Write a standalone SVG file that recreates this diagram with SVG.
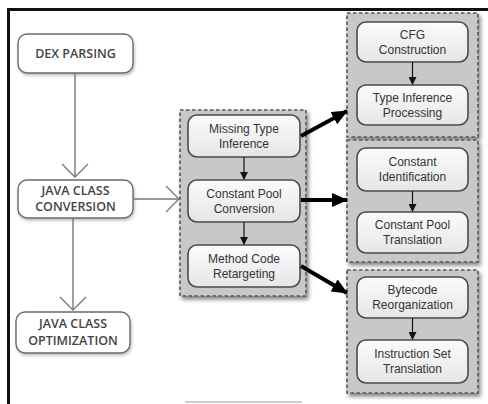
<svg xmlns="http://www.w3.org/2000/svg" width="488" height="404" viewBox="0 0 488 404">
<defs>
<filter id="sh" x="-10%" y="-10%" width="130%" height="130%">
<feGaussianBlur in="SourceAlpha" stdDeviation="2"/>
<feOffset dx="2" dy="3" result="b"/>
<feComponentTransfer><feFuncA type="linear" slope="0.5"/></feComponentTransfer>
<feMerge><feMergeNode/><feMergeNode in="SourceGraphic"/></feMerge>
</filter>
<filter id="sh2" x="-10%" y="-10%" width="130%" height="130%">
<feGaussianBlur in="SourceAlpha" stdDeviation="1.5"/>
<feOffset dx="1" dy="2" result="b"/>
<feComponentTransfer><feFuncA type="linear" slope="0.25"/></feComponentTransfer>
<feMerge><feMergeNode/><feMergeNode in="SourceGraphic"/></feMerge>
</filter>
<linearGradient id="ig" x1="0" y1="0" x2="0" y2="1">
<stop offset="0" stop-color="#fbfbfb"/><stop offset="1" stop-color="#e6e6e6"/>
</linearGradient>
<marker id="open" markerWidth="16" markerHeight="30" refX="14" refY="15" orient="auto" markerUnits="userSpaceOnUse">
<path d="M1,2 L14,15 L1,28" fill="none" stroke="#777" stroke-width="1.3"/>
</marker>
<marker id="small" markerWidth="8" markerHeight="8" refX="7" refY="4" orient="auto" markerUnits="userSpaceOnUse">
<path d="M0,0 L8,4 L0,8 Z" fill="#111"/>
</marker>
<marker id="big" markerWidth="16" markerHeight="14" refX="15" refY="7" orient="auto" markerUnits="userSpaceOnUse">
<path d="M0,0 L16,7 L0,14 Z" fill="#000"/>
</marker>
</defs>
<style>
.outer{fill:#fff;stroke:#6a6a6a;stroke-width:1.4}
.lt{font-family:"Open Sans","Liberation Sans",sans-serif;font-size:12.5px;font-weight:600;fill:#444;text-anchor:middle}
.grp{fill:#c8c8c8;stroke:#555;stroke-width:1.6;stroke-dasharray:3.5,2.5}
.in{fill:url(#ig);stroke:#4a4a4a;stroke-width:1.6}
.it{font-family:"Liberation Sans",Arial,sans-serif;font-size:12px;fill:#333;text-anchor:middle}
.thin{stroke:#777;stroke-width:1.4;fill:none}
.sm{stroke:#111;stroke-width:1.2;fill:none}
.bg{stroke:#000;stroke-width:4;fill:none}
</style>
<rect width="488" height="404" fill="#fff"/>
<path d="M8.5,404 L8.5,9.5 L488,9.5" fill="none" stroke="#111" stroke-width="3"/>
<line x1="185" y1="402" x2="302" y2="402" stroke="#ccc" stroke-width="2"/>

<g id="dex"><rect class="outer" x="18" y="34" width="115" height="39" rx="9" filter="url(#sh2)"/><text class="lt" x="75.5" y="58">DEX PARSING</text></g>
<g id="jcc"><rect class="outer" x="18" y="180" width="115" height="38" rx="9" filter="url(#sh2)"/><text class="lt" x="75.5" y="195">JAVA CLASS</text><text class="lt" x="75.5" y="211">CONVERSION</text></g>
<g id="jco"><rect class="outer" x="16" y="312" width="114" height="41" rx="9" filter="url(#sh2)"/><text class="lt" x="73" y="328">JAVA CLASS</text><text class="lt" x="73" y="345">OPTIMIZATION</text></g>

<g id="grp-mid"><rect class="grp" x="180" y="110" width="126" height="186" filter="url(#sh)"/>
<g id="mti"><rect class="in" x="188" y="115" width="112" height="42" rx="9"/><text class="it" x="244" y="133">Missing Type</text><text class="it" x="244" y="148">Inference</text></g>
<g id="cpc"><rect class="in" x="188" y="180" width="112" height="42" rx="9"/><text class="it" x="244" y="198">Constant Pool</text><text class="it" x="244" y="213">Conversion</text></g>
<g id="mcr"><rect class="in" x="188" y="245" width="112" height="42" rx="9"/><text class="it" x="244" y="263">Method Code</text><text class="it" x="244" y="278">Retargeting</text></g>
</g>

<g id="grp1"><rect class="grp" x="347" y="13" width="131" height="124" filter="url(#sh)"/>
<g id="cfg"><rect class="in" x="357" y="22" width="111" height="40" rx="9"/><text class="it" x="412.5" y="39">CFG</text><text class="it" x="412.5" y="54">Construction</text></g>
<g id="tip"><rect class="in" x="357" y="85" width="111" height="40" rx="9"/><text class="it" x="412.5" y="102">Type Inference</text><text class="it" x="412.5" y="117">Processing</text></g>
</g>
<g id="grp2"><rect class="grp" x="347" y="140" width="131" height="122" filter="url(#sh)"/>
<g id="ci"><rect class="in" x="357" y="148" width="111" height="43" rx="9"/><text class="it" x="412.5" y="166">Constant</text><text class="it" x="412.5" y="181">Identification</text></g>
<g id="cpt"><rect class="in" x="357" y="212" width="111" height="41" rx="9"/><text class="it" x="412.5" y="229">Constant Pool</text><text class="it" x="412.5" y="244">Translation</text></g>
</g>
<g id="grp3"><rect class="grp" x="347" y="270" width="131" height="123" filter="url(#sh)"/>
<g id="br"><rect class="in" x="357" y="277" width="111" height="41" rx="9"/><text class="it" x="412.5" y="294">Bytecode</text><text class="it" x="412.5" y="309">Reorganization</text></g>
<g id="ist"><rect class="in" x="357" y="340" width="111" height="43" rx="9"/><text class="it" x="412.5" y="358">Instruction Set</text><text class="it" x="412.5" y="373">Translation</text></g>
</g>

<g id="connectors">
<line class="thin" x1="75" y1="73" x2="75" y2="177" marker-end="url(#open)"/>
<line class="thin" x1="73" y1="218" x2="73" y2="310" marker-end="url(#open)"/>
<line class="thin" x1="133" y1="199" x2="179" y2="199" marker-end="url(#open)"/>
<line class="sm" x1="244" y1="157" x2="244" y2="179" marker-end="url(#small)"/>
<line class="sm" x1="244" y1="222" x2="244" y2="244" marker-end="url(#small)"/>
<line class="sm" x1="412.5" y1="62" x2="412.5" y2="84" marker-end="url(#small)"/>
<line class="sm" x1="412.5" y1="191" x2="412.5" y2="211" marker-end="url(#small)"/>
<line class="sm" x1="412.5" y1="318" x2="412.5" y2="339" marker-end="url(#small)"/>
<line class="bg" x1="301" y1="136" x2="347" y2="111" marker-end="url(#big)"/>
<line class="bg" x1="301" y1="200" x2="347" y2="200" marker-end="url(#big)"/>
<line class="bg" x1="301" y1="266" x2="347" y2="293" marker-end="url(#big)"/>
</g>
</svg>
